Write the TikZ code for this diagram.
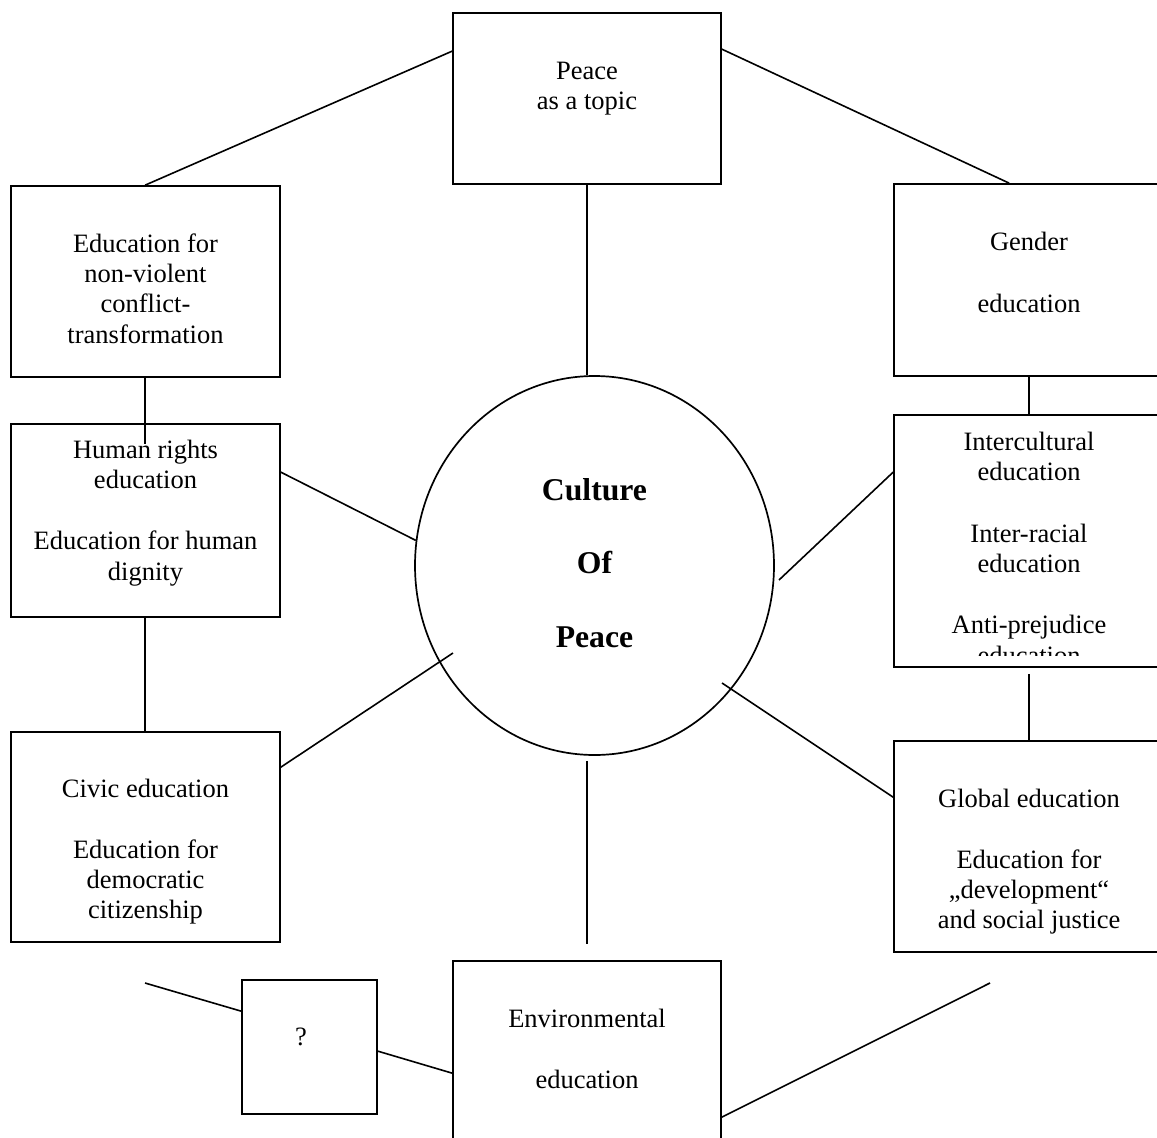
\documentclass[tikz,border=0pt]{standalone}
\usepackage{fontspec}
\setmainfont{Liberation Serif}
\usetikzlibrary{shapes.geometric,calc}
\newcommand\mytxtfont{\fontsize{26.5pt}{30.3pt}\selectfont}
\newcommand\mybigfont{\fontsize{31.7pt}{36.7pt}\selectfont\bfseries}
\begin{document}
\begin{tikzpicture}[x=1pt,y=-1pt,
  box/.style={draw=black, line width=1.7pt, rectangle, inner sep=0pt},
  txt/.style={inner sep=0pt, align=center, anchor=north, font=\mytxtfont},
  conn/.style={draw=black, line width=1.6pt}]
\useasboundingbox (0,0) rectangle (1157,1138);
\fill[white] (0,0) rectangle (1157,1138);
\clip (0,0) rectangle (1157,1138);
% boxes
\node[box, minimum width=268pt, minimum height=171pt] (top) at (587,98.5) {};
\node[box, minimum width=269pt, minimum height=191pt] (nv) at (145.5,281.5) {};
\node[box, minimum width=269pt, minimum height=193pt] (hr) at (145.5,520.5) {};
\node[box, minimum width=269pt, minimum height=210pt] (civ) at (145.5,837) {};
\node[box, minimum width=270pt, minimum height=192pt] (gen) at (1029,280) {};
\node[box, minimum width=270pt, minimum height=252pt] (ic) at (1029,541) {};
\node[box, minimum width=270pt, minimum height=211pt] (glob) at (1029,846.5) {};
\node[box, minimum width=268pt, minimum height=189pt] (env) at (587,1055.5) {};
\node[box, minimum width=135pt, minimum height=134pt] (q) at (309.5,1047) {};
\node[draw=black, line width=1.7pt, ellipse, inner sep=0pt, minimum width=359pt, minimum height=379pt] (cop) at (594.5,565.5) {};
% texts
\node[txt] (ttop) at (587,57.8) {\strut Peace\\as a topic};
\node[txt] (tnv) at (145.5,230.8) {\strut Education for\\non-violent\\conflict-\\transformation};
\node[txt] (thr) at (145.5,436.8) {\strut Human rights\\education\\[31pt]Education for human\\dignity};
\node[txt] (tciv) at (145.5,775.8) {\strut Civic education\\[30.7pt]Education for\\democratic\\citizenship};
\node[txt] (tgen) at (1029,228.8) {\strut Gender\\[31.7pt]education};
\begin{scope}
\clip (894,415) rectangle (1164,655);
\node[txt] (tic) at (1029,428.8) {\strut Intercultural\\education\\[31.5pt]Inter-racial\\education\\[31pt]Anti-prejudice\\education};
\end{scope}
\node[txt] (tglob) at (1029,785.8) {\strut Global education\\[30.7pt]Education for\\„development“\\and social justice};
\node[txt] (tenv) at (587,1005.8) {\strut Environmental\\[30.7pt]education};
\node[txt] (tq) at (301,1023.8) {\strut ?};
\node[txt, font=\mybigfont] (tcop) at (594.5,474.3) {\strut Culture\\[36.5pt]Of\\[37.5pt]Peace};
% free ends
\coordinate (fl) at (145,983);
\coordinate (fr) at (990,983);
% connectors
\draw[conn] ($(top.north west)+(0,39)$) -- ($(nv.north west)+(135,0)$);
\draw[conn] ($(top.north east)+(0,37)$) -- ($(gen.north west)+(116,0)$);
\draw[conn] (top.south) -- (top.south |- cop.north);
\draw[conn] ($(nv.south west)+(135,0)$) -- ($(hr.north west)+(135,21)$);
\draw[conn] ($(hr.north east)+(0,49)$) -- (cop.172);
\draw[conn] ($(hr.south west)+(135,0)$) -- ($(civ.north west)+(135,0)$);
\draw[conn] ($(civ.north east)+(0,36)$) -- ($(cop.center)+(-141.5,87.5)$);
\draw[conn] ($(cop.south)+(-7.5,5)$) -- ($(env.north)+(0,-16)$);
\draw[conn] ($(cop.center)+(127.5,117.5)$) -- ($(glob.north west)+(0,57)$);
\draw[conn] ($(ic.north west)+(0,58)$) -- ($(cop.center)+(184.5,14.5)$);
\draw[conn] (gen.south) -- (ic.north);
\draw[conn] ($(ic.south)+(0,6)$) -- (glob.north);
\draw[conn] ($(env.north west)+(0,113)$) -- ($(q.north east)+(0,72)$);
\draw[conn] ($(q.north west)+(0,32)$) -- (fl);
\draw[conn] ($(env.north east)+(0,157)$) -- (fr);
\end{tikzpicture}
\end{document}
